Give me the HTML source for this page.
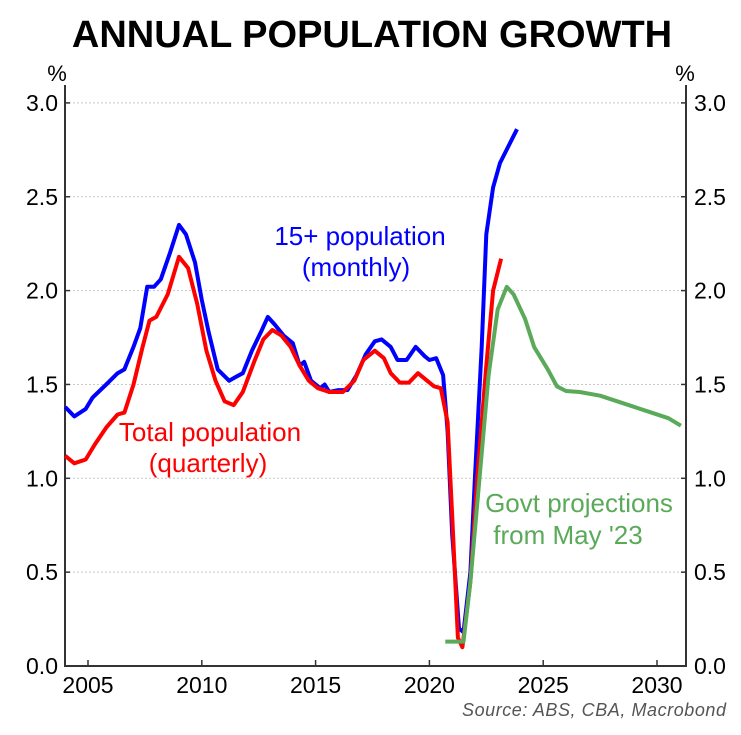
<!DOCTYPE html>
<html><head><meta charset="utf-8"><style>
body{margin:0;background:#fff;}
svg{font-family:"Liberation Sans",sans-serif;display:block;}
</style></head><body>
<svg width="741" height="735">
<text x="372" y="47" text-anchor="middle" font-size="38" font-weight="bold">ANNUAL POPULATION GROWTH</text>
<text x="57" y="81" font-size="22" text-anchor="middle">%</text>
<text x="685" y="81" font-size="22" text-anchor="middle">%</text>
<g id="grid"></g>
<g id="axes"></g>
<g id="series"></g>
<text x="360" y="245" font-size="26" fill="#0000ff" text-anchor="middle">15+ population</text>
<text x="356" y="276" font-size="26" fill="#0000ff" text-anchor="middle">(monthly)</text>
<text x="210" y="441" font-size="26" fill="#ff0000" text-anchor="middle">Total population</text>
<text x="208" y="472" font-size="26" fill="#ff0000" text-anchor="middle">(quarterly)</text>
<text x="579" y="512" font-size="26" fill="#5aaa5a" text-anchor="middle">Govt projections</text>
<text x="568" y="544" font-size="26" fill="#5aaa5a" text-anchor="middle">from May '23</text>
<text x="726" y="716" font-size="18" font-style="italic" fill="#555" text-anchor="end" textLength="264">Source: ABS, CBA, Macrobond</text>
</svg>
<script>
const yTicks=[0,0.5,1,1.5,2,2.5,3];
const yTickLabels=["0.0","0.5","1.0","1.5","2.0","2.5","3.0"];
const xTicks=[2005,2010,2015,2020,2025,2030];
const blueYears=[2004.0,2004.4,2004.9,2005.2,2005.8,2006.3,2006.6,2007.0,2007.3,2007.6,2007.9,2008.2,2008.6,2009.0,2009.3,2009.7,2010.0,2010.3,2010.7,2011.2,2011.5,2011.8,2012.2,2012.6,2012.9,2013.2,2013.6,2014.0,2014.3,2014.5,2014.8,2015.2,2015.4,2015.6,2016.0,2016.4,2016.8,2017.2,2017.6,2017.9,2018.3,2018.6,2019.0,2019.4,2019.8,2020.0,2020.3,2020.6,2020.8,2021.0,2021.3,2021.5,2021.8,2022.0,2022.3,2022.5,2022.8,2023.1,2023.85];
const blueVals=[1.38,1.33,1.37,1.43,1.50,1.56,1.58,1.70,1.80,2.02,2.02,2.06,2.20,2.35,2.30,2.15,1.95,1.78,1.58,1.52,1.54,1.56,1.68,1.78,1.86,1.82,1.76,1.72,1.60,1.62,1.52,1.48,1.50,1.46,1.47,1.47,1.55,1.66,1.73,1.74,1.70,1.63,1.63,1.70,1.65,1.63,1.64,1.55,1.25,0.70,0.20,0.18,0.50,1.00,1.70,2.30,2.55,2.68,2.86];
const redYears=[2004.0,2004.4,2004.9,2005.3,2005.8,2006.3,2006.6,2007.0,2007.4,2007.7,2008.0,2008.5,2009.0,2009.4,2009.8,2010.2,2010.6,2011.0,2011.4,2011.8,2012.3,2012.7,2013.1,2013.5,2013.9,2014.3,2014.7,2015.1,2015.6,2016.2,2016.7,2017.1,2017.6,2018.0,2018.3,2018.7,2019.1,2019.5,2019.9,2020.2,2020.5,2020.8,2021.0,2021.25,2021.45,2021.8,2022.1,2022.5,2022.8,2023.15];
const redVals=[1.12,1.08,1.10,1.18,1.27,1.34,1.35,1.50,1.70,1.84,1.86,1.98,2.18,2.12,1.93,1.68,1.52,1.41,1.39,1.46,1.62,1.74,1.79,1.76,1.70,1.60,1.52,1.48,1.46,1.46,1.52,1.63,1.68,1.64,1.56,1.51,1.51,1.56,1.52,1.49,1.48,1.30,0.80,0.15,0.10,0.45,1.00,1.60,2.00,2.17];
const greenYears=[2020.7,2021.5,2021.8,2022.2,2022.6,2023.0,2023.4,2023.7,2024.2,2024.6,2025.2,2025.6,2026.0,2026.6,2027.5,2028.5,2029.5,2030.5,2031.05];
const greenVals=[0.13,0.13,0.45,1.00,1.55,1.90,2.02,1.98,1.85,1.70,1.58,1.49,1.465,1.46,1.44,1.40,1.36,1.32,1.28];
const NS="http://www.w3.org/2000/svg";
const L=65,R=686,B=666;
function xs(y){return 88+(y-2005)*22.76;}
function ys(v){return 666-v*187.7;}
function mk(tag,attrs,parent,text){const e=document.createElementNS(NS,tag);for(const k in attrs)e.setAttribute(k,attrs[k]);if(text!==undefined)e.textContent=text;document.getElementById(parent).appendChild(e);return e;}
yTicks.forEach((t,i)=>{
  if(t>0){const g=mk('line',{x1:L,x2:R,y1:ys(t),y2:ys(t),stroke:'#c8c8c8','stroke-dasharray':'2,2','stroke-width':1},'grid');
  
  }
  const a=mk('text',{x:L-7,y:ys(t)+8,'font-size':23,'text-anchor':'end'},'axes',yTickLabels[i]);
  
  
  const b=mk('text',{x:R+8,y:ys(t)+8,'font-size':23},'axes',yTickLabels[i]);
  
  
  mk('line',{x1:L,x2:L+5,y1:ys(t),y2:ys(t),stroke:'#333','stroke-width':1.5},'axes');
  mk('line',{x1:R-5,x2:R,y1:ys(t),y2:ys(t),stroke:'#333','stroke-width':1.5},'axes');
});
xTicks.forEach(t=>{
  mk('line',{x1:xs(t),x2:xs(t),y1:B,y2:B-6,stroke:'#333','stroke-width':1.5},'axes');
  const a=mk('text',{x:xs(t),y:B+27,'font-size':23,'text-anchor':'middle'},'axes',String(t));
  
  
});
mk('path',{d:`M${L},85V${B}H${R}V85`,fill:'none',stroke:'#333','stroke-width':2},'axes');
function line(xsA,vs,col,name){
  const d=xsA.map((y,i)=>(i?'L':'M')+xs(y).toFixed(1)+','+ys(vs[i]).toFixed(1)).join('');
  const p=mk('path',{d:d,fill:'none',stroke:col,'stroke-width':4,'stroke-linejoin':'round'},'series');
  
  
}
line(blueYears,blueVals,'#0000ff','population-15plus-line');
line(redYears,redVals,'#ff0000','total-population-line');
line(greenYears,greenVals,'#5aaa5a','govt-projection-line');
</script>
</body></html>
